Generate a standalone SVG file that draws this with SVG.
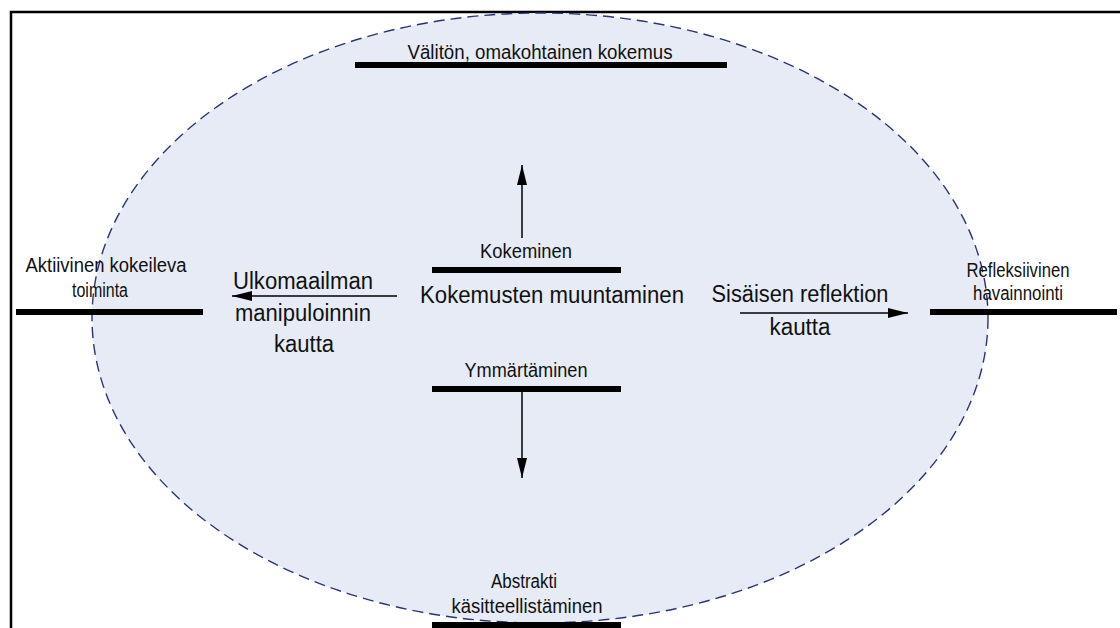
<svg xmlns="http://www.w3.org/2000/svg" width="1120" height="628" viewBox="0 0 1120 628">
<style>
.small{font-family:"Liberation Sans Narrow","Liberation Sans",Arial,sans-serif;font-size:20px;fill:#111;text-anchor:middle}
.big{font-family:"Liberation Sans Narrow","Liberation Sans",Arial,sans-serif;font-size:23px;fill:#111;text-anchor:middle}
.bar{stroke:#000;stroke-width:6;fill:none}
.arr{stroke:#000;stroke-width:1.5;fill:none;marker-end:url(#ah)}
</style>
<defs>
<marker id="ah" markerUnits="userSpaceOnUse" markerWidth="20" markerHeight="10" refX="20" refY="5" orient="auto">
<path d="M0,0 L20,5 L0,10 z" fill="#000"/>
</marker>
</defs>
<rect width="1120" height="628" fill="#fff"/>
<g id="frame">
<path d="M11,628 L11,12 L1120,12" fill="none" stroke="#000" stroke-width="2.5"/>
</g>
<g id="ellipse">
<ellipse cx="540" cy="318" rx="448" ry="305" fill="#e6ebf6" stroke="#2b3570" stroke-width="1.4" stroke-dasharray="11 6"/>
</g>
<g id="node-top">
<line class="bar" x1="355" y1="65" x2="727" y2="65"/>
<text class="small" x="540" y="59" textLength="265" lengthAdjust="spacingAndGlyphs">Välitön, omakohtainen kokemus</text>
</g>
<g id="node-kokeminen">
<line class="bar" x1="432" y1="270" x2="621" y2="270"/>
<text class="small" x="526" y="258" textLength="92" lengthAdjust="spacingAndGlyphs">Kokeminen</text>
</g>
<g id="node-center">
<text class="big" x="552" y="303" textLength="264" lengthAdjust="spacingAndGlyphs">Kokemusten muuntaminen</text>
</g>
<g id="node-ymmartaminen">
<line class="bar" x1="432" y1="389" x2="621" y2="389"/>
<text class="small" x="526" y="377" textLength="123" lengthAdjust="spacingAndGlyphs">Ymmärtäminen</text>
</g>
<g id="node-left">
<line class="bar" x1="16" y1="312" x2="203" y2="312"/>
<text class="small" x="106" y="272" textLength="161" lengthAdjust="spacingAndGlyphs">Aktiivinen kokeileva</text>
<text class="small" x="100" y="297" textLength="56" lengthAdjust="spacingAndGlyphs">toiminta</text>
</g>
<g id="node-right">
<line class="bar" x1="930" y1="312" x2="1117" y2="312"/>
<text class="small" x="1018" y="277" textLength="103" lengthAdjust="spacingAndGlyphs">Refleksiivinen</text>
<text class="small" x="1018" y="300" textLength="90" lengthAdjust="spacingAndGlyphs">havainnointi</text>
</g>
<g id="node-bottom">
<line class="bar" x1="432" y1="625" x2="621" y2="625"/>
<text class="small" x="524" y="588" textLength="66" lengthAdjust="spacingAndGlyphs">Abstrakti</text>
<text class="small" x="527" y="613" textLength="151" lengthAdjust="spacingAndGlyphs">käsitteellistäminen</text>
</g>
<g id="label-left">
<text class="big" x="303" y="289" textLength="140" lengthAdjust="spacingAndGlyphs">Ulkomaailman</text>
<text class="big" x="303" y="321" textLength="136" lengthAdjust="spacingAndGlyphs">manipuloinnin</text>
<text class="big" x="304" y="352" textLength="60" lengthAdjust="spacingAndGlyphs">kautta</text>
</g>
<g id="label-right">
<text class="big" x="800" y="302" textLength="177" lengthAdjust="spacingAndGlyphs">Sisäisen reflektion</text>
<text class="big" x="800" y="335" textLength="61" lengthAdjust="spacingAndGlyphs">kautta</text>
</g>
<g id="connectors">
<line class="arr" x1="522" y1="238" x2="522" y2="165"/>
<line class="arr" x1="522" y1="392" x2="522" y2="478"/>
<line class="arr" x1="397" y1="296" x2="232" y2="296"/>
<line class="arr" x1="740" y1="313" x2="908" y2="313"/>
</g>
</svg>
